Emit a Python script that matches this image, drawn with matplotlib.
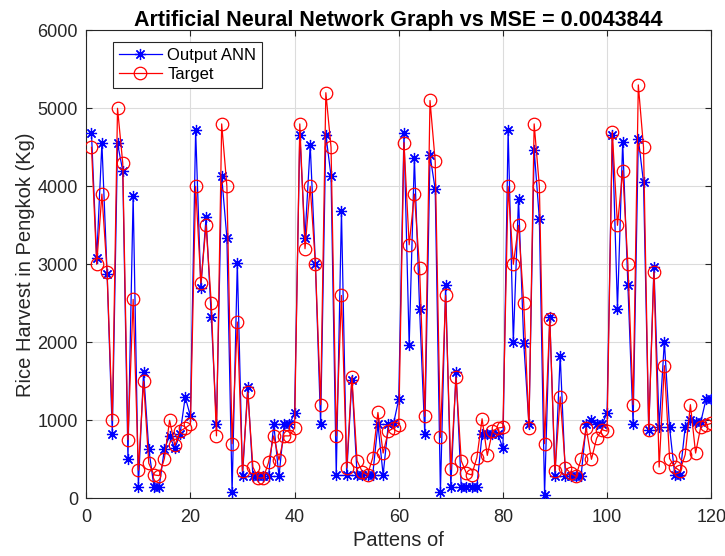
import matplotlib
matplotlib.use("Agg")
import matplotlib.pyplot as plt
import numpy as np

plt.rcParams['font.family'] = ['Liberation Sans', 'DejaVu Sans']

patterns = list(range(1, 121))

target = [
    4500, 3000, 3900, 2900, 1000, 5000, 4300, 750, 2550, 360,
    1500, 450, 300, 290, 510, 1000, 680, 860, 900, 950,
    4000, 2760, 3500, 2500, 800, 4800, 4000, 700, 2260, 350,
    1360, 400, 260, 260, 460, 800, 490, 800, 800, 900,
    4800, 3200, 4000, 3000, 1200, 5200, 4500, 800, 2600, 390,
    1560, 480, 340, 300, 520, 1100, 580, 860, 900, 940,
    4560, 3250, 3900, 2950, 1050, 5100, 4320, 780, 2600, 370,
    1550, 480, 320, 300, 520, 1020, 550, 860, 900, 910,
    4000, 3000, 3500, 2500, 900, 4800, 4000, 700, 2300, 350,
    1300, 390, 320, 280, 500, 900, 500, 770, 880, 860,
    4700, 3500, 4200, 3000, 1200, 5300, 4500, 880, 2900, 400,
    1700, 510, 400, 350, 560, 1200, 580, 920, 940, 960,
]

output_ann = [
    4680, 3075, 4550, 2880, 830, 4550, 4200, 510, 3875, 150,
    1620, 630, 150, 150, 630, 800, 640, 820, 1300, 1050,
    4720, 2700, 3600, 2330, 950, 4130, 3340, 75, 3020, 280,
    1430, 280, 280, 280, 280, 950, 280, 950, 950, 1090,
    4660, 3340, 4530, 3000, 950, 4660, 4130, 300, 3680, 300,
    1520, 300, 300, 300, 300, 950, 300, 950, 960, 1270,
    4680, 1960, 4360, 2430, 820, 4400, 3960, 75, 2730, 150,
    1620, 150, 150, 150, 150, 820, 820, 830, 830, 640,
    4720, 2010, 3840, 1990, 950, 4470, 3580, 45, 2330, 280,
    1830, 280, 280, 280, 280, 950, 1000, 950, 950, 1090,
    4660, 2430, 4570, 2730, 950, 4610, 4050, 870, 2970, 910,
    2010, 910, 300, 300, 910, 1000, 980, 980, 1270, 1270,
]

fig = plt.figure(figsize=(7.25, 5.56), dpi=100)
ax = fig.add_axes([0.119, 0.1038, 0.862, 0.8417])

ax.plot(patterns, output_ann, color='#0000ff', marker=(8, 2, 0), markersize=8,
        linewidth=0.9, markeredgewidth=0.9, label='Output ANN', zorder=3)
ax.plot(patterns, target, color='#ff0000', marker='o', markersize=9,
        markerfacecolor='none', linewidth=0.9, markeredgewidth=0.9,
        label='Target', zorder=4)

ax.set_xlim(0, 120)
ax.set_ylim(0, 6000)
ax.set_xticks(np.arange(0, 121, 20))
ax.set_yticks(np.arange(0, 6001, 1000))
ax.grid(True, color='#dcdcdc', linewidth=0.8)
ax.set_axisbelow(True)
ax.tick_params(direction='in', top=True, right=True, labelsize=13,
               length=4, width=0.8, colors='#262626')
ax.tick_params(axis='x', pad=8)
ax.tick_params(axis='y', pad=6)
for s in ax.spines.values():
    s.set_color('#262626')
    s.set_linewidth(0.8)

ax.set_title('Artificial Neural Network Graph vs MSE = 0.0043844',
             fontsize=15.5, fontweight='bold', pad=3)
ax.set_xlabel('Pattens of', fontsize=14.5, color='#262626', labelpad=3)
ax.set_ylabel('Rice Harvest in Pengkok (Kg)', fontsize=14.5, color='#262626', labelpad=2)

leg = ax.legend(loc='upper left', bbox_to_anchor=(0.0427, 0.975), borderaxespad=0,
                fontsize=12, fancybox=False, edgecolor='#262626', framealpha=1,
                handlelength=2.6, handletextpad=0.3, borderpad=0.35, labelspacing=0.25)
leg.get_frame().set_linewidth(0.8)

fig.savefig('out.png', dpi=100, facecolor='white')
